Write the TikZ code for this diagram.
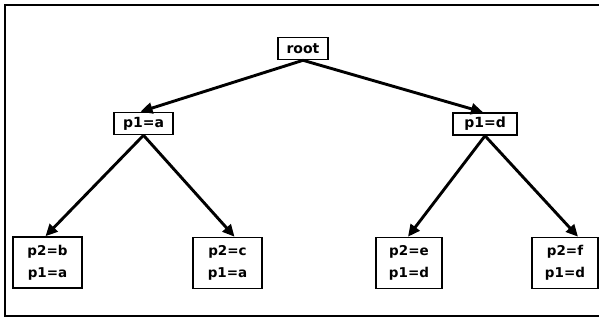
\documentclass[tikz,border=0pt]{standalone}
\usepackage{fontspec}
\setmainfont{DejaVu Sans}
\usetikzlibrary{arrows.meta}
\begin{document}
\begin{tikzpicture}[x=1pt,y=-1pt,
  box/.style={draw,line width=1.6pt,inner sep=0pt},
  single/.style={box,minimum height=22pt,font=\bfseries\fontsize{14}{16}\selectfont},
  double/.style={box,minimum height=51pt,minimum width=69pt,align=center,
    font=\bfseries\fontsize{13.5}{22}\selectfont},
  edge/.style={line width=2.9pt,-{Triangle[length=12pt,width=11pt]}}]
\useasboundingbox (0,0) rectangle (599,321);
% frame
\draw[line width=2.4pt] (602,5) -- (5,5) -- (5,316) -- (602,316);
% tree nodes
\node[single,minimum width=50pt] (root) at (303,48.5) {root};
\node[single,minimum width=59pt] (pa) at (143.5,123.5) {p1=a};
\node[single,minimum width=64pt] (pd) at (485,124) {p1=d};
\node[double] (pb) at (47.5,262.5) {p2=b\\p1=a};
\node[double] (pc) at (227.5,263) {p2=c\\p1=a};
\node[double,minimum width=66pt] (pe) at (409,263) {p2=e\\p1=d};
\node[double,minimum width=66pt] (pf) at (565,263) {p2=f\\p1=d};
% edges
\draw[edge] (root.south) -- ([xshift=-3pt]pa.north);
\draw[edge] (root.south) -- ([xshift=-2pt]pd.north);
\draw[edge] (pa.south) -- ([xshift=-2pt]pb.north);
\draw[edge] (pa.south) -- ([xshift=7pt]pc.north);
\draw[edge] (pd.south) -- ([xshift=-1pt]pe.north);
\draw[edge] (pd.south) -- ([xshift=13pt]pf.north);
\end{tikzpicture}
\end{document}
